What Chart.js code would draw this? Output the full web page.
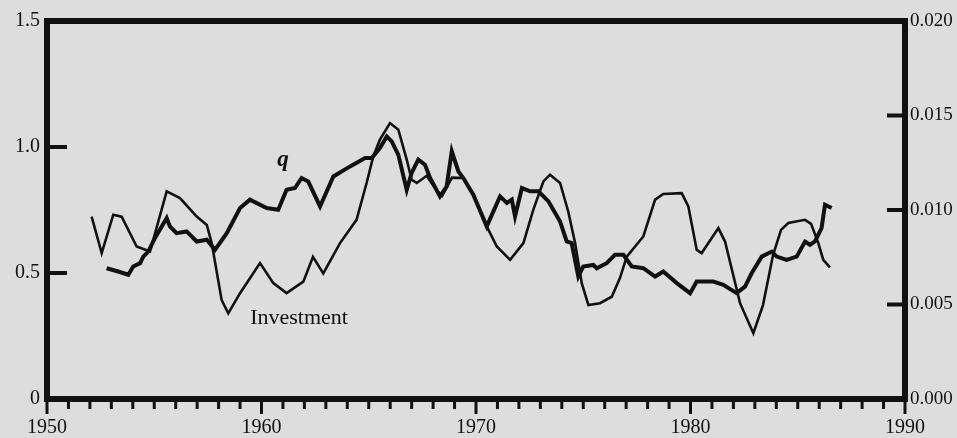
<!DOCTYPE html>
<html lang="en">
<head>
    <meta charset="UTF-8">
    <title>q and Investment</title>
    <script src="https://cdn.jsdelivr.net/npm/chart.js"></script>
    <style>
        html, body { margin: 0; padding: 0; background: #dddddd; }
        #wrap { width: 957px; height: 438px; position: relative; }
    </style>
</head>
<body>
    <div id="wrap"><canvas id="qChart"></canvas></div>
    <script>
        // q (left axis)
        const qYears = [1952.78, 1953.32, 1953.79, 1954.02, 1954.34, 1954.49, 1954.72, 1955.03, 1955.58, 1955.73,
            1956.04, 1956.51, 1956.98, 1957.45, 1957.83, 1958.38, 1959.00, 1959.46, 1960.24, 1960.78,
            1961.17, 1961.56, 1961.87, 1962.18, 1962.73, 1963.35, 1964.13, 1964.83, 1965.14, 1965.52,
            1965.84, 1966.07, 1966.38, 1966.77, 1967.00, 1967.31, 1967.62, 1967.86, 1968.32, 1968.63,
            1968.87, 1969.18, 1969.41, 1969.88, 1970.50, 1971.12, 1971.44, 1971.67, 1971.82, 1972.14,
            1972.52, 1972.91, 1973.38, 1973.92, 1974.23, 1974.46, 1974.77, 1975.00, 1975.47, 1975.63,
            1976.09, 1976.48, 1976.87, 1977.26, 1977.80, 1978.35, 1978.73, 1979.36, 1979.98, 1980.29,
            1980.60, 1981.06, 1981.53, 1982.15, 1982.54, 1982.85, 1983.32, 1983.79, 1984.02, 1984.48,
            1984.95, 1985.34, 1985.57, 1985.80, 1986.11, 1986.27, 1986.58];
        const qValues = [0.519, 0.506, 0.493, 0.526, 0.539, 0.565, 0.585, 0.638, 0.718, 0.685,
            0.658, 0.665, 0.625, 0.632, 0.592, 0.658, 0.758, 0.791, 0.758, 0.751,
            0.830, 0.837, 0.877, 0.863, 0.764, 0.883, 0.923, 0.956, 0.956, 0.996,
            1.042, 1.022, 0.969, 0.830, 0.897, 0.950, 0.930, 0.877, 0.804, 0.843,
            0.983, 0.903, 0.877, 0.810, 0.685, 0.804, 0.778, 0.791, 0.724, 0.837,
            0.824, 0.824, 0.784, 0.704, 0.625, 0.619, 0.486, 0.526, 0.532, 0.519,
            0.539, 0.572, 0.572, 0.526, 0.519, 0.486, 0.506, 0.460, 0.420, 0.466,
            0.466, 0.466, 0.453, 0.420, 0.446, 0.499, 0.565, 0.585, 0.565, 0.552,
            0.565, 0.625, 0.612, 0.625, 0.678, 0.771, 0.758];

        // investment (right axis)
        const invYears = [1952.08, 1952.55, 1953.09, 1953.48, 1954.18, 1954.80, 1955.58, 1956.20, 1956.98, 1957.45,
            1957.68, 1958.14, 1958.45, 1959.00, 1959.93, 1960.55, 1961.17, 1961.95, 1962.40, 1962.88,
            1963.66, 1964.43, 1964.90, 1965.21, 1965.52, 1965.99, 1966.38, 1966.77, 1967.00, 1967.24,
            1967.70, 1968.14, 1968.42, 1968.88, 1969.41, 1969.88, 1970.50, 1970.97, 1971.59, 1972.21,
            1972.67, 1973.14, 1973.45, 1973.92, 1974.30, 1974.62, 1974.93, 1975.24, 1975.78, 1976.33,
            1976.71, 1977.03, 1977.80, 1978.35, 1978.73, 1979.59, 1979.90, 1980.29, 1980.52, 1981.30,
            1981.61, 1982.31, 1982.93, 1983.38, 1983.85, 1984.22, 1984.56, 1985.34, 1985.62, 1985.96,
            1986.19, 1986.50];
        const invValues = [0.00965, 0.00772, 0.00975, 0.00965, 0.00807, 0.00780, 0.01099, 0.01063, 0.00965, 0.00921,
            0.00825, 0.00524, 0.00453, 0.00560, 0.00719, 0.00613, 0.00560, 0.00621, 0.00752, 0.00665,
            0.00825, 0.00948, 0.01143, 0.01284, 0.01372, 0.01460, 0.01425, 0.01267, 0.01160, 0.01143,
            0.01181, 0.01107, 0.01075, 0.01171, 0.01169, 0.01080, 0.00913, 0.00807, 0.00736, 0.00825,
            0.01001, 0.01151, 0.01187, 0.01143, 0.00992, 0.00825, 0.00613, 0.00497, 0.00507, 0.00541,
            0.00640, 0.00753, 0.00860, 0.01055, 0.01085, 0.01089, 0.01019, 0.00789, 0.00772, 0.00904,
            0.00833, 0.00507, 0.00348, 0.00497, 0.00763, 0.00895, 0.00931, 0.00948, 0.00927, 0.00825,
            0.00736, 0.00696];

        const leftTicks = [0, 0.5, 1.0, 1.5];
        const rightTicks = [0, 0.005, 0.010, 0.015, 0.020];

        const serif = "'Liberation Serif', 'DejaVu Serif', serif";
        const ink = '#111111';

        // frame, inward ticks, labels on the lines
        const decor = {
            id: 'decor',
            afterDatasetsDraw(chart) {
                const { ctx, chartArea: a, scales } = chart;
                ctx.save();
                ctx.strokeStyle = ink;
                ctx.lineCap = 'butt';

                // year ticks under the axis
                ctx.lineWidth = 3;
                for (let yr = 1950; yr <= 1990; yr++) {
                    const px = scales.x.getPixelForValue(yr);
                    const len = yr % 10 === 0 ? 15 : 10;
                    ctx.beginPath();
                    ctx.moveTo(px, a.bottom);
                    ctx.lineTo(px, a.bottom + len);
                    ctx.stroke();
                }

                ctx.lineWidth = 4;
                leftTicks.slice(1, -1).forEach(v => {
                    const py = scales.yL.getPixelForValue(v);
                    ctx.beginPath();
                    ctx.moveTo(a.left, py);
                    ctx.lineTo(a.left + 20, py);
                    ctx.stroke();
                });
                rightTicks.slice(1, -1).forEach(v => {
                    const py = scales.yR.getPixelForValue(v);
                    ctx.beginPath();
                    ctx.moveTo(a.right, py);
                    ctx.lineTo(a.right - 18, py);
                    ctx.stroke();
                });

                ctx.lineWidth = 6;
                ctx.strokeRect(a.left, a.top, a.right - a.left, a.bottom - a.top);

                ctx.fillStyle = ink;
                ctx.textAlign = 'center';
                ctx.textBaseline = 'middle';
                ctx.font = 'italic bold 23px ' + serif;
                ctx.fillText('q', scales.x.getPixelForValue(1961.0), scales.yL.getPixelForValue(0.95));
                ctx.font = '22px ' + serif;
                ctx.fillText('Investment', scales.x.getPixelForValue(1961.75), scales.yL.getPixelForValue(0.32));
                ctx.restore();
            }
        };

        const ctx = document.getElementById('qChart').getContext('2d');
        new Chart(ctx, {
            type: 'line',
            data: {
                datasets: [{
                    label: 'q',
                    data: qYears.map((yr, i) => ({ x: yr, y: qValues[i] })),
                    yAxisID: 'yL',
                    borderColor: ink,
                    borderWidth: 4,
                    pointRadius: 0,
                    tension: 0
                }, {
                    label: 'Investment',
                    data: invYears.map((yr, i) => ({ x: yr, y: invValues[i] })),
                    yAxisID: 'yR',
                    borderColor: ink,
                    borderWidth: 2.6,
                    pointRadius: 0,
                    tension: 0
                }]
            },
            options: {
                responsive: true,
                maintainAspectRatio: false,
                animation: false,
                layout: { padding: { top: 21, left: 0, right: 0, bottom: 0 } },
                plugins: {
                    legend: { display: false },
                    tooltip: { enabled: false }
                },
                scales: {
                    x: {
                        type: 'linear',
                        min: 1950,
                        max: 1990,
                        grid: { display: false, drawTicks: false },
                        border: { display: false },
                        ticks: {
                            stepSize: 10,
                            padding: 17,
                            color: ink,
                            maxRotation: 0,
                            font: { family: serif, size: 20 },
                            callback: v => String(v)
                        },
                        afterFit: s => { s.height = 39; }
                    },
                    yL: {
                        position: 'left',
                        min: 0,
                        max: 1.5,
                        grid: { display: false, drawTicks: false },
                        border: { display: false },
                        ticks: {
                            stepSize: 0.5,
                            padding: 7,
                            color: ink,
                            font: { family: serif, size: 20 },
                            callback: v => v === 0 ? '0' : v.toFixed(1)
                        },
                        afterFit: s => { s.width = 47; }
                    },
                    yR: {
                        position: 'right',
                        min: 0,
                        max: 0.02,
                        grid: { display: false, drawTicks: false },
                        border: { display: false },
                        ticks: {
                            stepSize: 0.005,
                            padding: 5,
                            color: ink,
                            font: { family: serif, size: 19 },
                            callback: v => v.toFixed(3)
                        },
                        afterFit: s => { s.width = 52; }
                    }
                }
            },
            plugins: [decor]
        });
    </script>
</body>
</html>
